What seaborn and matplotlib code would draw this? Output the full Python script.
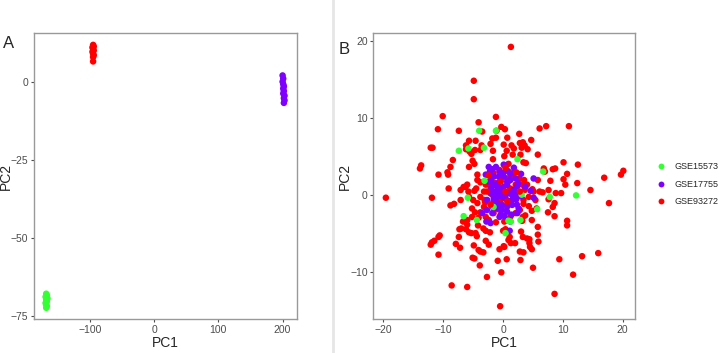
import matplotlib.pyplot as plt
import numpy as np
import pandas as pd
import seaborn as sns
from matplotlib.lines import Line2D

sns.set_style("white")
plt.rcParams['font.family'] = ['Liberation Sans', 'DejaVu Sans']

groups = ['GSE15573', 'GSE17755', 'GSE93272']
colors = {'GSE15573': '#33FF33', 'GSE17755': '#7F00FF', 'GSE93272': '#FF0000'}

# Panel A: before batch correction
a_green_x = [-168, -167, -169, -166, -168, -167, -169, -168, -167, -168]
a_green_y = [-68.0, -68.5, -69.0, -69.5, -70.0, -70.5, -71.0, -71.5, -72.0, -72.5]
a_purple_x = [200, 201, 200, 201, 202, 201, 202, 201, 203, 202, 203, 202]
a_purple_y = [2.0, 1.0, 0.0, -0.8, -1.5, -2.2, -3.0, -3.8, -4.5, -5.3, -6.0, -6.8]
a_red_x = [-95, -94, -96, -95, -94, -96, -95, -94, -95, -95]
a_red_y = [11.8, 11.3, 11.0, 10.5, 10.0, 9.6, 9.0, 8.5, 7.9, 6.5]

# Panel B: after batch correction
b_green_x = [-4.0, -3.2, -7.4, 2.4, 6.7, -3.1, -5.9, 3.1, 7.8, 12.2, 5.7, -6.6,
             -4.4, -1.6, 0.9, 1.3, 2.9, 0.4, -5.8, -1.2]
b_green_y = [8.3, 6.1, 5.7, 4.6, 3.0, 1.8, -0.4, 0.0, -0.3, -0.1, -1.9, -2.8,
             -3.3, -1.6, -3.4, -3.5, -3.3, -5.0, 6.0, 8.3]

b_purple_x = [-2.4, 0.1, 1.8, 3.0, 5.1, 3.7, 4.6, 5.1, 2.2, 2.3, 2.4, 1.2, 1.1,
              -2.8, -2.1, -2.7, -1.8, -3.5, -2.9, -2.0,
              -1.56, -1.0, -0.44, 0.11, 0.67, -1.28, -0.72, -0.17, 0.39, 0.94,
              -1.56, -1.0, -0.17, 0.67, 1.5, -0.44, 0.11, 0.67, -0.72, -1.56,
              -2.39, -2.11, -2.67, -1.83, -1.0, -0.17, 0.67, 1.5, 1.78, 1.22,
              2.06, 2.33,
              -2.2, -1.8, -1.2, -0.6, 0.0, 0.6, 1.2, 1.8, 2.5, -2.0, -1.4, -0.8,
              -0.2, 0.4, 1.0, 1.6, 2.2, -1.6, -1.0, -0.4, 0.2, 0.8, 1.4, 2.6,
              3.0, -0.6, 0.3]
b_purple_y = [3.6, 3.9, 3.5, 2.7, 2.1, 1.0, 0.5, -0.4, -0.6, -1.3, -2.4, -3.5, -4.7,
              -3.5, -3.7, -2.0, -2.4, -2.4, 2.6, 1.9,
              1.26, 1.04, 0.82, 1.04, 1.26, 0.39, -0.04, -0.26, -0.48, 0.17,
              -0.48, -1.13, -1.34, -1.56, -0.04, 1.9, 2.34, 1.69, 2.34, 2.34,
              1.69, 0.17, -0.69, -1.56, -1.77, -1.99, -2.21, -1.34, 0.61, 1.9,
              2.12, 1.04,
              3.0, 3.3, 3.6, 3.0, 2.8, 3.2, 2.7, 2.9, 1.5, 0.8, 0.2, 1.5,
              0.5, 0.0, 1.8, -0.6, 0.2, -0.9, -0.3, -2.6, -2.8, -0.8, -2.6, -1.8,
              -0.2, -2.9, 3.8]

b_red_x = [1.3, -4.9, -4.9, -10.1, -1.2, -10.9, -7.4, -4.1, -0.3, 0.3, -1.1, -3.5,
           6.1, 7.2, 11.0, 2.7, 0.7, -1.8, -1.2, 4.7, -5.7, -4.6, -12.1, -11.8,
           -6.2, -3.6, -2.1, 0.1, 1.4, 3.3, 3.6, 2.8, -6.2, -5.6, -4.7, -3.8,
           -1.7, 0.6, 1.8, 3.1, 4.1, -5.3, 1.6, 2.9, 5.8, -8.4, -5.1, 0.2, -1.7,
           3.4, -13.7, -13.9, -8.8, -5.7, -4.8, 0.9, 3.8, 6.8, 8.3, 8.7, 10.1,
           12.5, -9.3, -9.2, -10.8, -4.3, 7.0, 10.7, 20.1, 19.7, 16.9, -4.3,
           -3.8, 3.5, 5.8, 7.9, 10.1, 12.4, 10.4, -6.0, -6.6, -6.3, -4.5, -9.1,
           -4.8, -5.8, 3.6, 4.9, 6.1, 6.6, 7.6, 8.8, 9.7, 14.6, -19.6, -11.9,
           -3.1, -3.0, 7.6, 17.7, -8.8, -8.2, 3.4, 8.6, 8.3, 4.3, 5.6, 7.5, 4.8,
           2.8, -4.7, -3.8, -0.8, 8.6, 3.7, 3.3, -5.2, -4.1, -2.9, -6.0, 4.8,
           0.2, 3.2, -6.7, -4.2, 10.7, 10.7, -6.0, -7.3, -7.0, -6.2, -5.7, -5.3,
           -4.6, -3.3, -2.9, -2.2, 0.0, 0.4, 3.0, 5.8, 5.8, -10.6, -10.8, -7.4,
           -4.4, 1.1, 3.3, 4.0, 4.4, 0.9, -11.5, -11.9, -12.1, -7.9, -2.9, -2.4,
           -4.9, 0.1, 1.3, 2.0, 4.4, 5.9, -7.2, 0.2, 4.5, 4.8, -4.1, -3.8, -3.3,
           -0.6, 2.8, 3.4, -10.8, 15.9, 13.2, -5.1, -4.8, -0.9, 0.6, 2.9, 9.4,
           -3.9, 5.0, -0.3, -2.7, 11.7, -8.6, -6.0, 8.6, -0.5,
           -3.2, -3.8, -4.3, -5.2, -5.0, -2.9, -3.2, -5.7, -7.1, -7.1, 3.2, 4.0,
           5.1, 4.3, 3.4, 5.4]
b_red_y = [19.2, 14.8, 12.4, 10.2, 10.1, 8.5, 8.3, 9.4, 8.8, 8.5, 8.3, 8.2,
           8.6, 8.9, 8.9, 7.9, 7.4, 7.3, 7.4, 7.1, 7.0, 7.0, 6.1, 6.1,
           6.4, 6.4, 6.6, 6.5, 6.4, 6.8, 6.4, 6.7, 5.9, 5.6, 5.8, 5.8,
           5.7, 5.7, 6.0, 6.1, 5.9, 5.3, 5.2, 5.2, 5.2, 4.5, 4.4, 5.0, 4.6,
           4.2, 3.8, 3.4, 3.6, 3.6, 4.0, 4.0, 4.1, 3.4, 3.3, 3.4, 4.2,
           3.9, 2.9, 2.6, 2.6, 2.6, 3.0, 2.7, 3.1, 2.6, 2.2, 1.9,
           1.6, 1.9, 1.9, 1.8, 2.0, 1.5, 1.3, 1.3, 1.0, 1.0, 0.8, 0.8,
           0.5, 0.4, 0.6, 0.7, 0.4, 0.3, 0.6, 0.2, 0.2, 0.6, -0.4, -0.4,
           -0.7, -1.0, -0.6, -1.1, -1.4, -1.2, -1.2, -1.1, -1.6, -1.5, -1.8, -2.3, -2.1,
           -2.0, -2.3, -2.3, -1.9, -2.8, -2.7, -2.9, -2.9, -3.0, -2.9, -3.3, -3.3,
           -3.5, -3.4, -3.5, -4.0, -3.4, -4.0, -3.9, -4.5, -4.4, -4.5, -4.9, -5.0,
           -5.0, -4.4, -4.7, -4.9, -4.7, -4.5, -4.8, -4.2, -5.2, -5.3, -5.5, -5.5,
           -5.4, -5.5, -5.5, -5.7, -5.8, -5.9, -6.0, -6.2, -6.5, -6.4, -6.0, -6.5,
           -6.6, -6.7, -6.3, -6.3, -6.3, -6.1, -6.9, -6.8, -6.8, -7.1, -7.2, -7.4, -7.5,
           -7.1, -7.4, -7.5, -7.8, -7.6, -8.0, -8.2, -8.3, -8.6, -8.4, -8.5, -8.4,
           -9.2, -9.5, -10.1, -10.7, -10.4, -11.8, -12.0, -12.9, -14.5,
           -1.6, -0.3, -1.1, -1.8, -0.7, 1.3, 0.4, -0.3, 0.6, -0.7, 1.3, 1.3,
           0.4, -0.3, -0.7, -0.7]

# red samples sitting inside the purple cloud
b_red_core_x = [-2.4, -1.6, -0.6, 0.4, 0.9, 1.5, 2.2, 2.7, 0.7, -0.4, -1.3, -2.1,
                -2.7, -1.8, -0.8, 0.4, 1.2, 2.1, 2.8, 2.3, 1.5, 0.7, -0.4, -1.3,
                -2.1, -1.6, -2.4, -1.2, 2.1, 1.2]
b_red_core_y = [2.5, 2.8, 3.2, 3.5, 3.0, 2.6, 2.9, 2.1, 2.1, 1.7, 1.5, 1.0,
                0.4, 0.0, 0.3, 0.4, 0.8, 1.3, 0.4, -0.3, -0.7, -0.9, -0.7, -0.9,
                -1.3, -2.4, -3.3, -3.6, -2.4, -2.9]


def frame(x, y, g):
    return pd.DataFrame({'PC1': x, 'PC2': y, 'batch': g})


df_a = pd.concat([frame(a_green_x, a_green_y, groups[0]),
                  frame(a_purple_x, a_purple_y, groups[1]),
                  frame(a_red_x, a_red_y, groups[2])], ignore_index=True)

# row order = drawing order: most red underneath, a few on top of the purple cloud
core = frame(b_red_core_x, b_red_core_y, groups[2])
on_top = core.index % 3 == 0
df_b = pd.concat([frame(b_red_x, b_red_y, groups[2]),
                  core[~on_top],
                  frame(b_purple_x, b_purple_y, groups[1]),
                  frame(b_green_x, b_green_y, groups[0]),
                  core[on_top]],
                 ignore_index=True)

fig = plt.figure(figsize=(7.19, 3.53), dpi=100)
ax_a = fig.add_axes([0.0473, 0.0955, 0.3654, 0.810])
ax_b = fig.add_axes([0.5192, 0.0955, 0.3644, 0.810])

sns.scatterplot(data=df_a, x='PC1', y='PC2', hue='batch', palette=colors,
                hue_order=groups, s=22, linewidth=0, ax=ax_a, legend=False)
sns.scatterplot(data=df_b, x='PC1', y='PC2', hue='batch', palette=colors,
                hue_order=groups, s=22, linewidth=0, ax=ax_b)

ax_a.set_xlim(-187, 222)
ax_a.set_ylim(-76.2, 15.5)
ax_a.set_xticks([-100, 0, 100, 200])
ax_a.set_yticks([0, -25, -50, -75])
ax_b.set_xlim(-21.7, 22.1)
ax_b.set_ylim(-16.2, 20.96)
ax_b.set_xticks([-20, -10, 0, 10, 20])
ax_b.set_yticks([-10, 0, 10, 20])

for ax in (ax_a, ax_b):
    for sp in ax.spines.values():
        sp.set_color('#999999')
        sp.set_linewidth(1.0)
    ax.tick_params(axis='both', which='major', labelsize=7.5, colors='#4D4D4D',
                   length=2.5, width=0.8, direction='out', bottom=True, left=True, pad=1.5)
    ax.set_xlabel('PC1', fontsize=10, labelpad=1)
    ax.set_ylabel('PC2', fontsize=10)
    ax.yaxis.set_label_coords(-0.082, 0.5)

leg = ax_b.legend(loc='center left', bbox_to_anchor=(656 / 719, 0.478),
                  bbox_transform=fig.transFigure, frameon=False, fontsize=6.5,
                  handlelength=1.0, handletextpad=1.1, labelspacing=0.95,
                  borderaxespad=0, borderpad=0, markerscale=0.9)

fig.text(0.0115, 0.877, 'A', fontsize=12, ha='center', va='center')
fig.text(0.479, 0.861, 'B', fontsize=12, ha='center', va='center')
fig.add_artist(Line2D([0.4635, 0.4635], [0, 1], color='#E6E6E6', linewidth=2,
                      transform=fig.transFigure))

plt.savefig('out.png', dpi=100)
